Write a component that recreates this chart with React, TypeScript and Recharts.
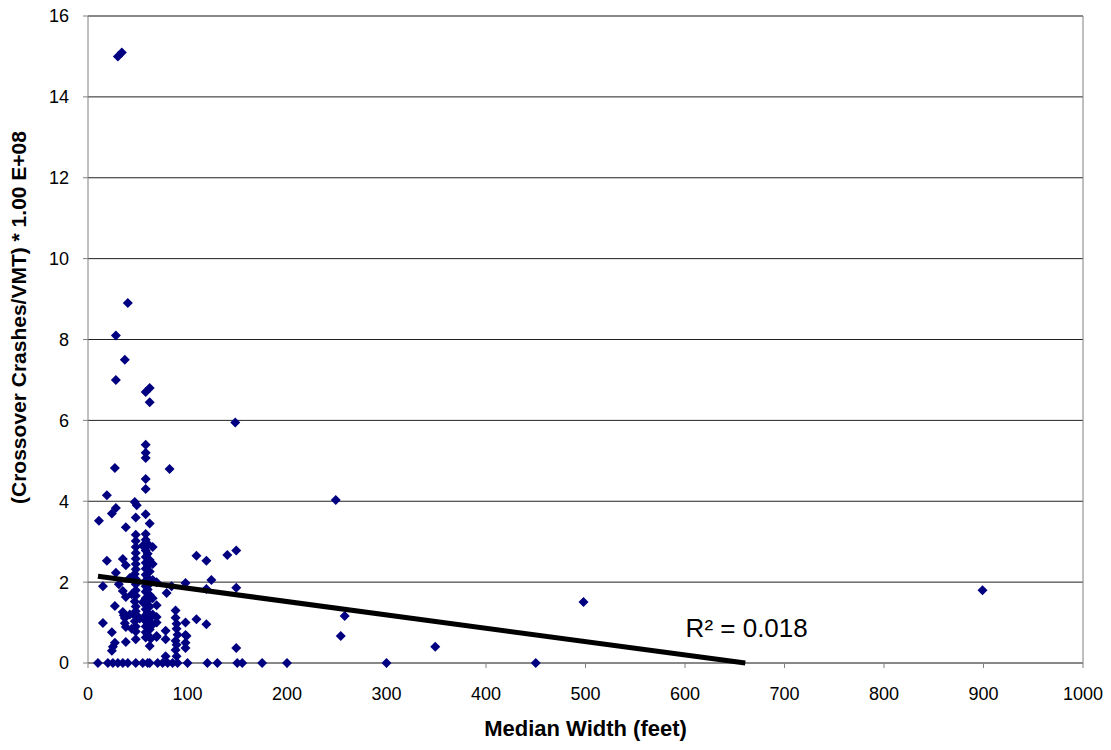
import {
  ScatterChart,
  Scatter,
  XAxis,
  YAxis,
  CartesianGrid,
  ReferenceLine,
  ReferenceDot,
} from 'recharts';

// median width (feet) and crossover crash rate
const medianWidth = [
  30, 34, 40, 28, 37, 28, 58, 62, 62, 148,
  58, 58, 58, 27, 82, 58, 58, 19, 47, 49, 28, 24, 48, 58, 11, 38, 62, 58, 48, 48,
  48, 58, 65, 48, 109, 119, 140, 149, 19, 35, 38, 28, 15, 31, 35, 38, 69, 98, 124, 84,
  79, 119, 149, 27, 35, 37, 38, 69, 69, 88, 88, 89, 89, 90, 98, 109, 119, 15, 24, 38,
  27, 25, 24, 48, 62, 69, 78, 89, 98, 98, 98, 78, 89, 149,
  249, 254, 258, 349, 498, 899,
  48, 48, 48, 47, 48, 48, 48, 48, 47, 48, 48, 48, 47, 48, 48,
  58, 60, 58, 60, 58, 62, 58, 60, 58, 62, 58, 60, 58, 62, 58, 60, 58, 62, 58, 60,
  58, 62, 58, 60, 58, 62, 58, 60, 58, 62, 58, 60, 58, 65, 65, 65, 65, 65, 55, 55,
  52, 44, 44, 42, 42, 69, 69, 63, 78, 88, 88, 99, 36, 37, 48,
  10, 20, 25, 30, 35, 40, 48, 55, 60, 62, 70, 75, 80, 85, 90, 100, 120, 130, 150, 155,
  175, 200, 300, 450,
];

const crashRate = [
  15.0, 15.1, 8.9, 8.1, 7.5, 7.0, 6.7, 6.8, 6.45, 5.95,
  5.4, 5.2, 5.07, 4.82, 4.8, 4.55, 4.3, 4.15, 3.98, 3.9, 3.83, 3.7, 3.6, 3.68, 3.52, 3.36, 3.45, 3.19, 3.17, 3.02,
  2.87, 2.87, 2.87, 2.72, 2.65, 2.53, 2.67, 2.78, 2.53, 2.57, 2.42, 2.23, 1.9, 1.95, 1.78, 1.63, 2.0, 1.98, 2.05, 1.9,
  1.73, 1.83, 1.86, 1.41, 1.26, 1.11, 0.89, 1.43, 1.14, 1.3, 1.12, 0.97, 0.85, 0.7, 1.0, 1.08, 0.96, 0.99, 0.76, 0.52,
  0.5, 0.4, 0.3, 0.59, 0.42, 0.64, 0.59, 0.45, 0.69, 0.5, 0.37, 0.17, 0.17, 0.37,
  4.03, 0.67, 1.16, 0.4, 1.51, 1.8,
  2.58, 2.45, 2.32, 2.2, 2.08, 1.95, 1.8, 1.66, 1.52, 1.4, 1.28, 1.15, 1.03, 0.9, 0.78,
  3.05, 2.95, 2.78, 2.7, 2.62, 2.55, 2.48, 2.4, 2.33, 2.26, 2.18, 2.1, 2.03, 1.96, 1.9, 1.82, 1.76, 1.68, 1.6, 1.53,
  1.46, 1.4, 1.33, 1.25, 1.18, 1.1, 1.03, 0.96, 0.9, 0.83, 0.76, 0.7, 0.63, 2.45, 2.05, 1.6, 1.2, 0.95, 2.9, 1.5,
  1.1, 1.7, 0.85, 2.1, 1.2, 1.0, 0.67, 0.6, 0.8, 0.55, 0.32, 0.67, 1.18, 0.98, 1.2,
  0, 0, 0, 0, 0, 0, 0, 0, 0, 0, 0, 0, 0, 0, 0, 0, 0, 0, 0, 0,
  0, 0, 0, 0,
];

const xTicks = [0, 100, 200, 300, 400, 500, 600, 700, 800, 900, 1000];
const yTicks = [0, 2, 4, 6, 8, 10, 12, 14, 16];

// linear trendline as reported by the spreadsheet (clipped at y = 0)
const trendSlope = -0.0033;
const trendIntercept = 2.18;
const trendStartX = 10;
const rSquaredText = 'R\u00b2 = 0.018';

const points = medianWidth.map((x, i) => ({ x, y: crashRate[i] }));
const trendEndX = trendIntercept / -trendSlope;
const trend = [
  { x: trendStartX, y: trendIntercept + trendSlope * trendStartX },
  { x: trendEndX, y: 0 },
];

const Diamond = (props: any) => {
  const { cx, cy } = props;
  if (cx == null || cy == null) return <g />;
  return (
    <polygon
      points={`${cx},${cy - 5} ${cx + 5},${cy} ${cx},${cy + 5} ${cx - 5},${cy}`}
      fill="#000080"
    />
  );
};

const font = '"Liberation Sans", Arial, sans-serif';

export default function App() {
  return (
    <div style={{ position: 'absolute', left: 0, top: 0, width: 1111, height: 750, background: '#fff' }}>
      <ScatterChart width={1111} height={750} margin={{ top: 16, right: 28, left: 0, bottom: 0 }}>
        <CartesianGrid horizontal vertical={false} stroke="#222" strokeWidth={1} />
        <XAxis
          type="number"
          dataKey="x"
          domain={[0, 1000]}
          ticks={xTicks}
          interval={0}
          height={87}
          stroke="#808080"
          tickSize={5}
          tickMargin={19}
          tick={{ fill: '#000', fontSize: 18, fontFamily: font }}
          label={{
            value: 'Median Width (feet)',
            position: 'center',
            dy: 22,
            style: { fontSize: 22, fontWeight: 'bold', fill: '#000', fontFamily: font },
          }}
        />
        <YAxis
          type="number"
          dataKey="y"
          domain={[0, 16]}
          ticks={yTicks}
          interval={0}
          width={88}
          stroke="#808080"
          tickSize={5}
          tickMargin={14}
          tick={{ fill: '#000', fontSize: 18, fontFamily: font }}
          label={{
            value: '(Crossover Crashes/VMT) * 1.00 E+08',
            angle: -90,
            position: 'center',
            dx: -25,
            dy: -22,
            style: { fontSize: 21, fontWeight: 'bold', fill: '#000', fontFamily: font, textAnchor: 'middle' },
          }}
        />
        <ReferenceLine x={1000} stroke="#808080" />
        <ReferenceLine y={16} stroke="#808080" />
        <Scatter data={points} fill="#000080" shape={Diamond} isAnimationActive={false} />
        <Scatter
          data={trend}
          line={{ stroke: '#000', strokeWidth: 5 }}
          shape={() => <g />}
          isAnimationActive={false}
        />
        <ReferenceDot
          x={662}
          y={0.87}
          r={0}
          fill="none"
          stroke="none"
          label={{ value: rSquaredText, position: 'center', fontSize: 26, fill: '#000', fontFamily: font }}
        />
      </ScatterChart>
    </div>
  );
}
